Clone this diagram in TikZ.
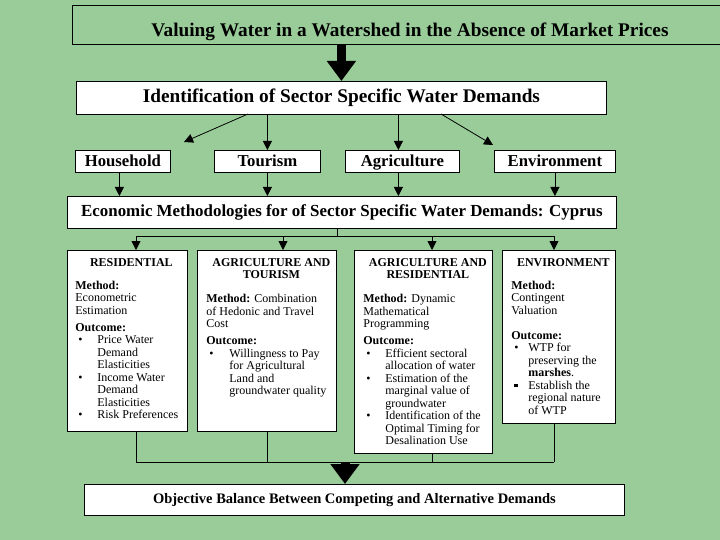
\documentclass[tikz,border=0pt]{standalone}
\usepackage{fontspec}
\setmainfont{Liberation Serif}
\usetikzlibrary{arrows.meta,calc}
\definecolor{bg}{RGB}{153,204,153}
\newlength{\bulind}\newlength{\bulpre}
\newcommand{\bul}[1]{\par\noindent\hangindent=\bulind\hangafter=1\makebox[\bulind][l]{\hspace{\bulpre}\textbullet}#1\par}
\newcommand{\sqb}[1]{\par\noindent\hangindent=\bulind\hangafter=1\makebox[\bulind][l]{\hspace{\bulpre}\rule[2pt]{3.5pt}{3.5pt}}#1\par}
\newcommand{\bodyfont}{\fontsize{12}{12.5}\selectfont\setlength{\parindent}{0pt}\setlength{\parskip}{0pt}}
\begin{document}
\begin{tikzpicture}[x=1pt,y=-1pt,
  box/.style={draw=black, fill=white, line width=0.8pt, inner sep=0pt, anchor=north west},
  arr/.style={line width=0.8pt, -{Triangle[width=9pt,length=9pt]}},
  bigarr/.style={line width=9pt, -{Triangle[width=28pt,length=20pt]}},
  line/.style={line width=0.8pt},
  secfont/.style={font=\fontsize{16.7}{18}\selectfont\bfseries, text height=12pt, text depth=2pt}]
\fill[bg] (0,0) rectangle (720,540);
\useasboundingbox (0,0) rectangle (720,540);
\clip (0,0) rectangle (720,540);

% title
\node[draw=black, line width=0.8pt, inner sep=0pt, anchor=north west, minimum width=680pt, minimum height=39pt] (titlebox) at (72,5) {};
\node[font=\fontsize{19.3}{22}\selectfont\bfseries, inner sep=0pt] (title) at (410,32) {Valuing Water in a Watershed in the Absence of Market Prices};

% identification
\node[box, minimum width=530pt, minimum height=33pt, font=\fontsize{19.3}{22}\selectfont\bfseries] (id) at (76,81) {Identification of Sector Specific Water Demands};
\draw[bigarr] (id.north |- titlebox.south) -- (id.north);

% sectors
\node[box, secfont, minimum width=95pt, minimum height=22pt] (hh) at (75,150) {Household};
\node[box, secfont, minimum width=106pt, minimum height=22pt] (tour) at (214,150) {Tourism};
\node[box, secfont, minimum width=114pt, minimum height=22pt] (agri) at (345,150) {Agriculture};
\node[box, secfont, minimum width=121pt, minimum height=22pt] (env) at (494,150) {Environment};

\coordinate (d1s) at (248,114);
\coordinate (d1e) at (184,142);
\coordinate (d4s) at (441,114);
\coordinate (d4e) at (493,145);
\draw[arr] (d1s) -- (d1e);
\draw[arr] (tour.north |- id.south) -- (tour.north);
\draw[arr] ([xshift=-4pt]agri.north |- id.south) -- ([xshift=-4pt]agri.north);
\draw[arr] (d4s) -- (d4e);

% economic methodologies
\node[box, minimum width=549pt, minimum height=32pt, font=\fontsize{16.9}{18}\selectfont\bfseries] (econ) at (67,196) {Economic Methodologies for of Sector Specific Water Demands: Cyprus};

\draw[arr] ([xshift=-3.5pt]hh.south) -- ([xshift=-3.5pt]hh.south |- econ.north);
\draw[arr] (tour.south) -- (tour.south |- econ.north);
\draw[arr] ([xshift=-4pt]agri.south) -- ([xshift=-4pt]agri.south |- econ.north);
\draw[arr] (env.south) -- (env.south |- econ.north);

% lower boxes
\node[box] (res) at (67,250) {\hspace{8pt}\begin{minipage}[t][181pt][t]{112pt}\bodyfont
{\centering\bfseries\rule{0pt}{16pt}RESIDENTIAL\par}
\vspace{10.5pt}
\textbf{Method:}\\Econometric\\Estimation\par
\vspace{4.5pt}
\textbf{Outcome:}\par
\setlength{\bulind}{22pt}\setlength{\bulpre}{3pt}
\bul{Price Water\\Demand\\Elasticities}
\bul{Income Water\\Demand\\Elasticities}
\bul{Risk Preferences}
\end{minipage}};

\node[box] (at) at (197,250) {\hspace{9pt}\begin{minipage}[t][181pt][t]{130pt}\bodyfont
{\centering\bfseries\rule{0pt}{16pt}AGRICULTURE AND\\TOURISM\par}
\vspace{11.5pt}
\textbf{Method:} Combination\\of Hedonic and Travel\\Cost\par
\vspace{4.5pt}
\textbf{Outcome:}\par
\setlength{\bulind}{23pt}\setlength{\bulpre}{3pt}
\bul{Willingness to Pay\\for Agricultural\\Land and\\groundwater quality}
\end{minipage}};

\node[box] (ar) at (354,250) {\hspace{9pt}\begin{minipage}[t][203pt][t]{129pt}\bodyfont
{\centering\bfseries\rule{0pt}{16pt}AGRICULTURE AND\\RESIDENTIAL\par}
\vspace{11.5pt}
\textbf{Method:} Dynamic\\Mathematical\\Programming\par
\vspace{4.5pt}
\textbf{Outcome:}\par
\setlength{\bulind}{22pt}\setlength{\bulpre}{3pt}
\bul{Efficient sectoral\\allocation of water}
\bul{Estimation of the\\marginal value of\\groundwater}
\bul{Identification of the\\Optimal Timing for\\Desalination Use}
\end{minipage}};

\node[box] (en) at (502,250) {\hspace{9pt}\begin{minipage}[t][173pt][t]{104pt}\bodyfont
{\centering\bfseries\rule{0pt}{16pt}ENVIRONMENT\par}
\vspace{10.5pt}
\textbf{Method:}\\Contingent\\Valuation\par
\vspace{12.5pt}
\textbf{Outcome:}\par
\setlength{\bulind}{17pt}\setlength{\bulpre}{3pt}
\bul{WTP for\\preserving the\\\textbf{marshes}.}
\sqb{Establish the\\regional nature\\of WTP}
\end{minipage}};

% tree from econ
\coordinate (t0) at (337,236);
\coordinate (t1) at (136,236);
\coordinate (t2) at (283,236);
\coordinate (t3) at (432,236);
\coordinate (t4) at (554,236);
\draw[line] (econ.south -| t0) -- (t0);
\draw[line] (t1) -- (t4);
\draw[arr] (t1) -- (res.north -| t1);
\draw[arr] (t2) -- (at.north -| t2);
\draw[arr] (t3) -- (ar.north -| t3);
\draw[arr] (t4) -- (en.north -| t4);

% bottom bus
\coordinate (b1) at (136,462);
\coordinate (b2) at (267,462);
\coordinate (b3) at (432,462);
\coordinate (b4) at (554,462);
\coordinate (j) at (345,462);
\draw[line] (res.south -| b1) -- (b1);
\draw[line] (at.south -| b2) -- (b2);
\draw[line] (ar.south -| b3) -- (b3);
\draw[line] (en.south -| b4) -- (b4);
\draw[line] (b1) -- (b4);

\node[box, minimum width=540pt, minimum height=31pt, font=\fontsize{14.5}{16}\selectfont\bfseries] (obj) at (84,484) {Objective Balance Between Competing and Alternative Demands};
\draw[bigarr] (j) -- (obj.north -| j);
\end{tikzpicture}
\end{document}
